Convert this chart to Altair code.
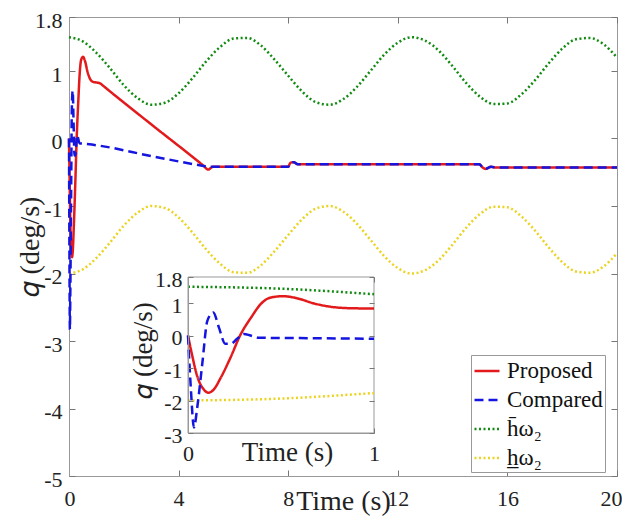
import altair as alt
import pandas as pd

FONT = "serif"

# ---- legend / series ----
SERIES = ["Proposed", "Compared", "h\u0304\u03c9\u2082", "h\u0332\u03c9\u2082"]
COLORS = ["#E31A1C", "#1515E0", "#118A11", "#EBD31E"]
DASHES = [[1, 0], [9, 5], [2, 2.5], [2, 2.5]]

# ---- bounds (read every 0.5 s) ----
BOUND_T = [0, 0.5, 1, 1.5, 2, 2.5, 3, 3.5, 4, 4.5, 5, 5.5, 6, 6.5, 7, 7.5, 8, 8.5, 9, 9.5,
           10, 10.5, 11, 11.5, 12, 12.5, 13, 13.5, 14, 14.5, 15, 15.5, 16, 16.5, 17, 17.5,
           18, 18.5, 19, 19.5, 20]
UPPER_Q = [1.50, 1.44, 1.27, 1.04, 0.79, 0.60, 0.50, 0.53, 0.67, 0.89, 1.14, 1.35, 1.48, 1.49,
           1.38, 1.17, 0.93, 0.70, 0.54, 0.50, 0.58, 0.76, 1.00, 1.24, 1.42, 1.50, 1.45, 1.30,
           1.07, 0.82, 0.62, 0.51, 0.52, 0.65, 0.86, 1.11, 1.33, 1.47, 1.49, 1.40, 1.20]
LOWER_Q = [-2.00, -1.94, -1.77, -1.54, -1.29, -1.10, -1.00, -1.03, -1.17, -1.39, -1.64, -1.85,
           -1.98, -1.99, -1.88, -1.67, -1.43, -1.20, -1.04, -1.00, -1.08, -1.26, -1.50, -1.74,
           -1.92, -2.00, -1.95, -1.80, -1.57, -1.32, -1.12, -1.01, -1.02, -1.15, -1.36, -1.61,
           -1.83, -1.97, -1.99, -1.90, -1.70]

# ---- proposed ----
PROP_T = [0, 0.02, 0.05, 0.086, 0.11, 0.14, 0.175, 0.23, 0.28, 0.34, 0.39, 0.44, 0.51, 0.59,
          0.675, 0.76, 0.87, 1.0, 1.12, 1.25, 1.4, 3.0, 4.9, 5.08, 5.25, 8.0, 8.08, 8.2, 8.35,
          14.97, 15.1, 15.2, 15.4, 15.6, 20]
PROP_Q = [0, -0.55, -1.26, -1.67, -1.76, -1.65, -1.31, -0.66, 0.0, 0.56, 0.96, 1.16, 1.21, 1.14,
          0.99, 0.89, 0.84, 0.83, 0.82, 0.78, 0.73, 0.21, -0.40, -0.46, -0.42, -0.42, -0.36,
          -0.35, -0.38, -0.38, -0.43, -0.45, -0.42, -0.43, -0.43]

# ---- compared ----
COMP_T = [0, 0.015, 0.032, 0.05, 0.077, 0.104, 0.136, 0.166, 0.2, 0.23, 0.264, 0.3, 0.336,
          0.38, 0.6, 1.0, 3.0, 4.95, 5.1, 8.0, 8.08, 8.2, 8.35, 14.97, 15.1, 15.2, 15.4, 15.6, 20]
COMP_Q = [0, -1.6, -2.83, -2.2, -0.86, 0.45, 0.71, 0.25, -0.25, -0.25, -0.1, 0.05, 0.0, -0.07,
          -0.08, -0.1, -0.26, -0.41, -0.42, -0.42, -0.36, -0.35, -0.38, -0.38, -0.43, -0.45,
          -0.42, -0.43, -0.43]

MAIN_T_DOMAIN = [0, 20]
MAIN_Q_DOMAIN = [-5, 1.8]
MAIN_T_TICKS = [0, 4, 8, 12, 16, 20]
MAIN_Q_TICKS = [-5, -4, -3, -2, -1, 0, 1, 1.8]
INSET_T_DOMAIN = [0, 1]
INSET_Q_DOMAIN = [-3, 1.8]
INSET_T_TICKS = [0, 1]
INSET_Q_TICKS = [-3, -2, -1, 0, 1, 1.8]


def frame(t, q, name):
    return pd.DataFrame({"t": t, "q": q, "series": name})


prop = frame(PROP_T, PROP_Q, SERIES[0])
comp = frame(COMP_T, COMP_Q, SERIES[1])
upper = frame(BOUND_T, UPPER_Q, SERIES[2])
lower = frame(BOUND_T, LOWER_Q, SERIES[3])
box = pd.DataFrame({"x0": [INSET_T_DOMAIN[0]], "x1": [INSET_T_DOMAIN[1]],
                    "y0": [INSET_Q_DOMAIN[0]], "y1": [INSET_Q_DOMAIN[1]]})

LBL = "'' + datum.value"
common_axis = dict(grid=False, labelOverlap=False, labelExpr=LBL,
                   labelFont=FONT, labelColor="#222", titleFont=FONT, titleColor="#222",
                   titleFontWeight="normal", domainColor="#999", tickColor="#777")
mirror_axis = dict(grid=False, labels=False, title=None, domain=False, tickColor="#777")

legend = alt.Legend(title=None, orient="none", legendX=402, legendY=338,
                    symbolType="stroke", symbolSize=625, symbolStrokeWidth=2.5,
                    labelFont=FONT, labelFontSize=23, labelColor="#111",
                    strokeColor="#999", fillColor="white", padding=2, rowPadding=3,
                    labelOffset=6)
color_enc = alt.Color("series:N", scale=alt.Scale(domain=SERIES, range=COLORS), legend=legend)
dash_enc = alt.StrokeDash("series:N", scale=alt.Scale(domain=SERIES, range=DASHES), legend=legend)

# ---- main scales / axes ----
mx_scale = alt.Scale(domain=MAIN_T_DOMAIN, nice=False, zero=False)
my_scale = alt.Scale(domain=MAIN_Q_DOMAIN, nice=False, zero=False)
mx_axis = alt.Axis(values=MAIN_T_TICKS, title="Time (s)", orient="bottom",
                   tickSize=alt.ExprRef(expr="-6"), labelPadding=18,
                   labelFlush=True, labelFlushOffset=5,
                   labelFontSize=22, titleFontSize=28, titleY=33,
                   titleBaseline="alphabetic", **common_axis)
my_axis = alt.Axis(values=MAIN_Q_TICKS, title="\U0001D45E (deg/s)", orient="left",
                   tickSize=alt.ExprRef(expr="-6"), labelPadding=13, labelFlush=False,
                   labelOffset=3, labelFontSize=22, titleFontSize=28, titleX=-39,
                   titleBaseline="middle", **common_axis)
mx_top = alt.Axis(values=MAIN_T_TICKS, orient="top", tickSize=alt.ExprRef(expr="-6"), **mirror_axis)
my_right = alt.Axis(values=MAIN_Q_TICKS, orient="right", tickSize=alt.ExprRef(expr="-6"), **mirror_axis)

# ---- inset scales / axes ----
ix_scale = alt.Scale(domain=INSET_T_DOMAIN, nice=False, zero=False, range=[119, 305])
iy_scale = alt.Scale(domain=INSET_Q_DOMAIN, nice=False, zero=False, range=[416, 260])
ix_axis = alt.Axis(values=INSET_T_TICKS, title="Time (s)", orient="bottom", offset=-43,
                   tickSize=alt.ExprRef(expr="-5"), labelPadding=15, labelFontSize=22,
                   labelFlush=False, titleFontSize=27, titleX=218, titleY=19,
                   titleBaseline="middle", zindex=1, **common_axis)
iy_axis = alt.Axis(values=INSET_Q_TICKS, title="\U0001D45E (deg/s)", orient="left", offset=-119,
                   tickSize=alt.ExprRef(expr="-5"), labelPadding=11, labelFontSize=22,
                   labelFlush=False, labelOffset=2, titleFontSize=27, titleX=-45, titleY=333,
                   titleBaseline="middle", zindex=1, **common_axis)
iy_right = alt.Axis(values=INSET_Q_TICKS, orient="right", offset=-243,
                    tickSize=alt.ExprRef(expr="-5"), zindex=1, **mirror_axis)
ix_top = alt.Axis(values=INSET_T_TICKS, orient="top", offset=-260,
                  tickSize=alt.ExprRef(expr="-5"), zindex=1, **mirror_axis)


def line(df, xs, ys, xa=None, ya=None, filt=None):
    c = alt.Chart(df)
    if filt:
        c = c.transform_filter(filt)
    x = alt.X("t:Q", scale=xs, axis=xa)
    y = alt.Y("q:Q", scale=ys, axis=ya)
    return c.mark_line(strokeWidth=2.5, interpolate="monotone").encode(
        x=x, y=y, color=color_enc, strokeDash=dash_enc)


def mirror(df, xs, ys, xa, ya):
    return alt.Chart(df).mark_line(opacity=0).encode(
        x=alt.X("t:Q", scale=xs, axis=xa), y=alt.Y("q:Q", scale=ys, axis=ya))


main = alt.layer(
    line(upper, mx_scale, my_scale, mx_axis, my_axis),
    line(lower, mx_scale, my_scale),
    line(prop, mx_scale, my_scale),
    line(comp, mx_scale, my_scale),
    mirror(upper, mx_scale, my_scale, mx_top, my_right),
).resolve_axis(x="independent", y="independent")

F = "datum.t <= 1"
inset_box = alt.Chart(box).mark_rect(fill="white", stroke="#999", strokeWidth=1).encode(
    x=alt.X("x0:Q", scale=ix_scale, axis=ix_axis), x2="x1:Q",
    y=alt.Y("y0:Q", scale=iy_scale, axis=iy_axis), y2="y1:Q")

inset = alt.layer(
    inset_box,
    line(upper, ix_scale, iy_scale, filt=F),
    line(lower, ix_scale, iy_scale, filt=F),
    line(prop, ix_scale, iy_scale, filt=F),
    line(comp, ix_scale, iy_scale, filt=F),
    mirror(upper.iloc[:3], ix_scale, iy_scale, ix_top, iy_right),
).resolve_axis(x="independent", y="independent")

chart = alt.layer(main, inset).resolve_scale(x="independent", y="independent").properties(
    width=548, height=459,
    padding={"left": 61, "top": 9, "right": 5, "bottom": 40},
    autosize=alt.AutoSizeParams(type="none"),
).configure_view(stroke="#999", strokeWidth=1)

chart.save("out.html", embed_options={"renderer": "svg", "actions": False})
